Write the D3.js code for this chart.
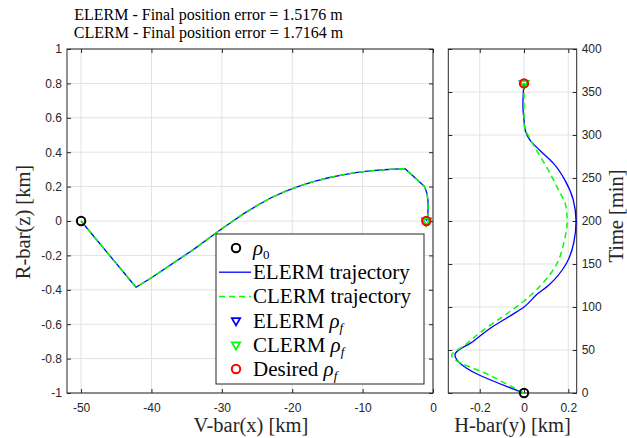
<!DOCTYPE html>
<meta charset="utf-8">
<style>

body { margin: 0; background: #fff; }

.tick text {
  font-family: "Liberation Sans", Arial, sans-serif;
  font-size: 12px;
  fill: #262626;
}

.tick line { stroke: #262626; }

.grid line {
  stroke: #e2e2e2;
  stroke-width: 1;
}

.box {
  fill: none;
  stroke: #262626;
  stroke-width: 1;
}

.label, .title, .legend text {
  font-family: "Liberation Serif", "Times New Roman", serif;
}

.label { font-size: 20.5px; fill: #262626; }
.title { font-size: 16px; fill: #000; }
.legend text { font-size: 21px; fill: #000; }

</style>

<body>

<svg width="627" height="438"></svg>

<script src="https://d3js.org/d3.v7.min.js"></script>
<script>

// V-bar / R-bar plane [km]
var vbarE = [-50, -42.2, -40, -38, -36, -34, -32, -30, -28.4, -27, -25, -23, -21, -19, -17, -15, -13, -11, -9, -7, -5.5, -4, -1.2, -0.85, -0.72, -0.7, -0.75, -0.95];
var rbarE = [0, -0.385, -0.33, -0.275, -0.22, -0.165, -0.105, -0.045, 0, 0.04, 0.09, 0.135, 0.172, 0.203, 0.229, 0.25, 0.267, 0.281, 0.291, 0.298, 0.302, 0.305, 0.2, 0.16, 0.12, 0.07, 0.03, 0];
var vbarC = [-50, -42.2, -40, -38, -36, -34, -32, -30, -28.4, -27, -25, -23, -21, -19, -17, -15, -13, -11, -9, -7, -5.5, -4, -1.2, -0.85, -0.72, -0.7, -0.75, -0.95];
var rbarC = [0, -0.385, -0.33, -0.275, -0.22, -0.165, -0.105, -0.045, 0, 0.04, 0.09, 0.135, 0.172, 0.203, 0.229, 0.25, 0.267, 0.281, 0.291, 0.298, 0.302, 0.305, 0.2, 0.16, 0.12, 0.07, 0.03, 0];

// H-bar against time
var timeE = [0, 44.7, 60, 75, 90, 100, 115, 125, 150, 175, 200, 225, 247, 267, 282, 294, 305, 317, 335, 350, 360];
var hbarE = [0, -0.312, -0.23, -0.154, -0.06, 0, 0.06, 0.11, 0.19, 0.225, 0.235, 0.222, 0.186, 0.133, 0.072, 0.027, 0.006, 0, -0.005, -0.003, 0];
var timeC = [0, 20, 43.9, 55, 70, 90, 107, 125, 150, 175, 200, 216, 240, 259, 282, 300, 306, 315, 360];
var hbarC = [0, -0.15, -0.327, -0.27, -0.2, -0.09, 0, 0.075, 0.148, 0.18, 0.195, 0.19, 0.148, 0.11, 0.057, 0.018, 0.005, 0, 0];

// rho_0 and desired rho_f as [vbar, rbar, hbar, time]
var rho0 = [-50, 0, 0, 0];
var rhoDesired = [-0.95, 0, 0, 360];

var vbarTicks = [-50, -40, -30, -20, -10, 0];
var rbarTicks = [-1, -0.8, -0.6, -0.4, -0.2, 0, 0.2, 0.4, 0.6, 0.8, 1];
var hbarTicks = [-0.2, 0, 0.2];
var timeTicks = [0, 50, 100, 150, 200, 250, 300, 350, 400];

var titleLines = ["ELERM - Final position error = 1.5176 m", "CLERM - Final position error = 1.7164 m"];

var legendItems = [
  {mark: "circle", color: "#000", text: "", rho: true, sub: "0"},
  {mark: "line", color: "#0000ff", text: "ELERM trajectory"},
  {mark: "dash", color: "#00ff00", text: "CLERM trajectory"},
  {mark: "tri", color: "#0000ff", text: "ELERM ", rho: true, sub: "f"},
  {mark: "tri", color: "#00ff00", text: "CLERM ", rho: true, sub: "f"},
  {mark: "circle", color: "#ff0000", text: "Desired ", rho: true, sub: "f"}
];

var svg = d3.select("svg");

var x = d3.scaleLinear().domain([-52, 0]).range([67, 433]),
    y = d3.scaleLinear().domain([-1, 1]).range([393, 49]);

var x2 = d3.scaleLinear().domain([-0.342, 0.238]).range([448.3, 576.7]),
    y2 = d3.scaleLinear().domain([0, 400]).range([393, 49]);

var fmt = function(d) { return String(+d.toFixed(2)); };

function frame(xs, ys, xt, yt, yRight) {
  var g = svg.append("g");
  var x0 = xs.range()[0], x1 = xs.range()[1],
      y0 = ys.range()[0], y1 = ys.range()[1];

  var grid = g.append("g").attr("class", "grid");
  grid.selectAll(".gx").data(xt).enter().append("line")
      .attr("x1", function(d) { return xs(d); })
      .attr("x2", function(d) { return xs(d); })
      .attr("y1", y0).attr("y2", y1);
  grid.selectAll(".gy").data(yt).enter().append("line")
      .attr("y1", function(d) { return ys(d); })
      .attr("y2", function(d) { return ys(d); })
      .attr("x1", x0).attr("x2", x1);

  g.append("g")
      .attr("transform", "translate(0," + y0 + ")")
      .call(d3.axisBottom(xs).tickValues(xt).tickSize(-4).tickSizeOuter(0).tickPadding(10).tickFormat(fmt))
    .select(".domain").remove();
  g.append("g")
      .attr("transform", "translate(0," + y1 + ")")
      .call(d3.axisTop(xs).tickValues(xt).tickSize(-4).tickSizeOuter(0).tickFormat(""))
    .select(".domain").remove();
  g.append("g")
      .attr("transform", "translate(" + x0 + ",0)")
      .call(d3.axisLeft(ys).tickValues(yt).tickSize(-4).tickSizeOuter(0).tickPadding(5)
        .tickFormat(yRight ? "" : fmt))
    .select(".domain").remove();
  g.append("g")
      .attr("transform", "translate(" + x1 + ",0)")
      .call(d3.axisRight(ys).tickValues(yt).tickSize(-4).tickSizeOuter(0).tickPadding(5)
        .tickFormat(yRight ? fmt : ""))
    .select(".domain").remove();

  g.append("rect")
      .attr("class", "box")
      .attr("x", x0).attr("y", y1)
      .attr("width", x1 - x0).attr("height", y0 - y1);
  return g;
}

function trace(g, px, py, color, dashed, curve) {
  var line = d3.line()
      .x(function(d) { return d[0]; })
      .y(function(d) { return d[1]; })
      .curve(curve);
  g.append("path")
      .datum(px.map(function(v, i) { return [v, py[i]]; }))
      .attr("fill", "none")
      .attr("stroke", color)
      .attr("stroke-width", dashed ? 1.5 : 1.3)
      .attr("stroke-dasharray", dashed ? "6,4" : null)
      .attr("stroke-linejoin", "round")
      .attr("d", line);
}

var tri = d3.symbol().type(d3.symbolTriangle).size(30);

function circle(g, cx, cy, color) {
  g.append("circle")
      .attr("cx", cx).attr("cy", cy).attr("r", 4.2)
      .attr("fill", "none").attr("stroke", color).attr("stroke-width", 2);
}

function triangle(g, cx, cy, color) {
  g.append("path")
      .attr("d", tri)
      .attr("transform", "translate(" + cx + "," + cy + ") rotate(180)")
      .attr("fill", "none").attr("stroke", color).attr("stroke-width", 1.8);
}

// left panel
var left = frame(x, y, vbarTicks, rbarTicks, false);
trace(left, vbarE.map(x), rbarE.map(y), "#0000ff", false, d3.curveLinear);
trace(left, vbarC.map(x), rbarC.map(y), "#00ff00", true, d3.curveLinear);
circle(left, x(rho0[0]), y(rho0[1]), "#000");
triangle(left, x(vbarE[vbarE.length - 1]), y(rbarE[rbarE.length - 1]), "#0000ff");
triangle(left, x(vbarC[vbarC.length - 1]), y(rbarC[rbarC.length - 1]), "#00ff00");
circle(left, x(rhoDesired[0]), y(rhoDesired[1]), "#ff0000");

// right panel
var right = frame(x2, y2, hbarTicks, timeTicks, true);
trace(right, hbarE.map(x2), timeE.map(y2), "#0000ff", false, d3.curveMonotoneY);
trace(right, hbarC.map(x2), timeC.map(y2), "#00ff00", true, d3.curveMonotoneY);
circle(right, x2(rho0[2]), y2(rho0[3]), "#000");
triangle(right, x2(hbarE[hbarE.length - 1]), y2(timeE[timeE.length - 1]), "#0000ff");
triangle(right, x2(hbarC[hbarC.length - 1]), y2(timeC[timeC.length - 1]), "#00ff00");
circle(right, x2(rhoDesired[2]), y2(rhoDesired[3]), "#ff0000");

// axis labels
svg.append("text").attr("class", "label")
    .attr("x", 251).attr("y", 432).attr("text-anchor", "middle")
    .text("V-bar(x) [km]");
svg.append("text").attr("class", "label")
    .attr("x", 512.5).attr("y", 432).attr("text-anchor", "middle")
    .text("H-bar(y) [km]");
svg.append("text").attr("class", "label")
    .attr("transform", "translate(30,222) rotate(-90)").attr("text-anchor", "middle")
    .text("R-bar(z) [km]");
svg.append("text").attr("class", "label")
    .attr("transform", "translate(623,216) rotate(-90)").attr("text-anchor", "middle")
    .text("Time [min]");

// title
svg.selectAll(".title").data(titleLines).enter().append("text")
    .attr("class", "title")
    .attr("x", 208.5)
    .attr("y", function(d, i) { return 20 + i * 18; })
    .attr("text-anchor", "middle")
    .text(function(d) { return d; });

// legend
var lg = svg.append("g").attr("class", "legend").attr("transform", "translate(216,234)");
lg.append("rect")
    .attr("width", 208).attr("height", 150)
    .attr("fill", "#fff").attr("stroke", "#262626").attr("stroke-width", 1);

legendItems.forEach(function(d, i) {
  var cy = 14 + i * 24.2;
  if (d.mark === "circle") circle(lg, 20, cy, d.color);
  if (d.mark === "tri") triangle(lg, 20, cy, d.color);
  if (d.mark === "line" || d.mark === "dash") {
    lg.append("line")
        .attr("x1", 3).attr("x2", 35).attr("y1", cy).attr("y2", cy)
        .attr("stroke", d.color)
        .attr("stroke-width", d.mark === "dash" ? 1.5 : 1.3)
        .attr("stroke-dasharray", d.mark === "dash" ? "6,4" : null);
  }
  var t = lg.append("text").attr("x", 37).attr("y", cy + 7);
  t.append("tspan").text(d.text);
  if (d.rho) {
    t.append("tspan").attr("font-style", "italic").text("\u03c1");
    t.append("tspan")
        .attr("baseline-shift", "-4").attr("font-size", 13)
        .attr("font-style", d.sub === "f" ? "italic" : "normal")
        .text(d.sub);
  }
});

</script>

</body>
